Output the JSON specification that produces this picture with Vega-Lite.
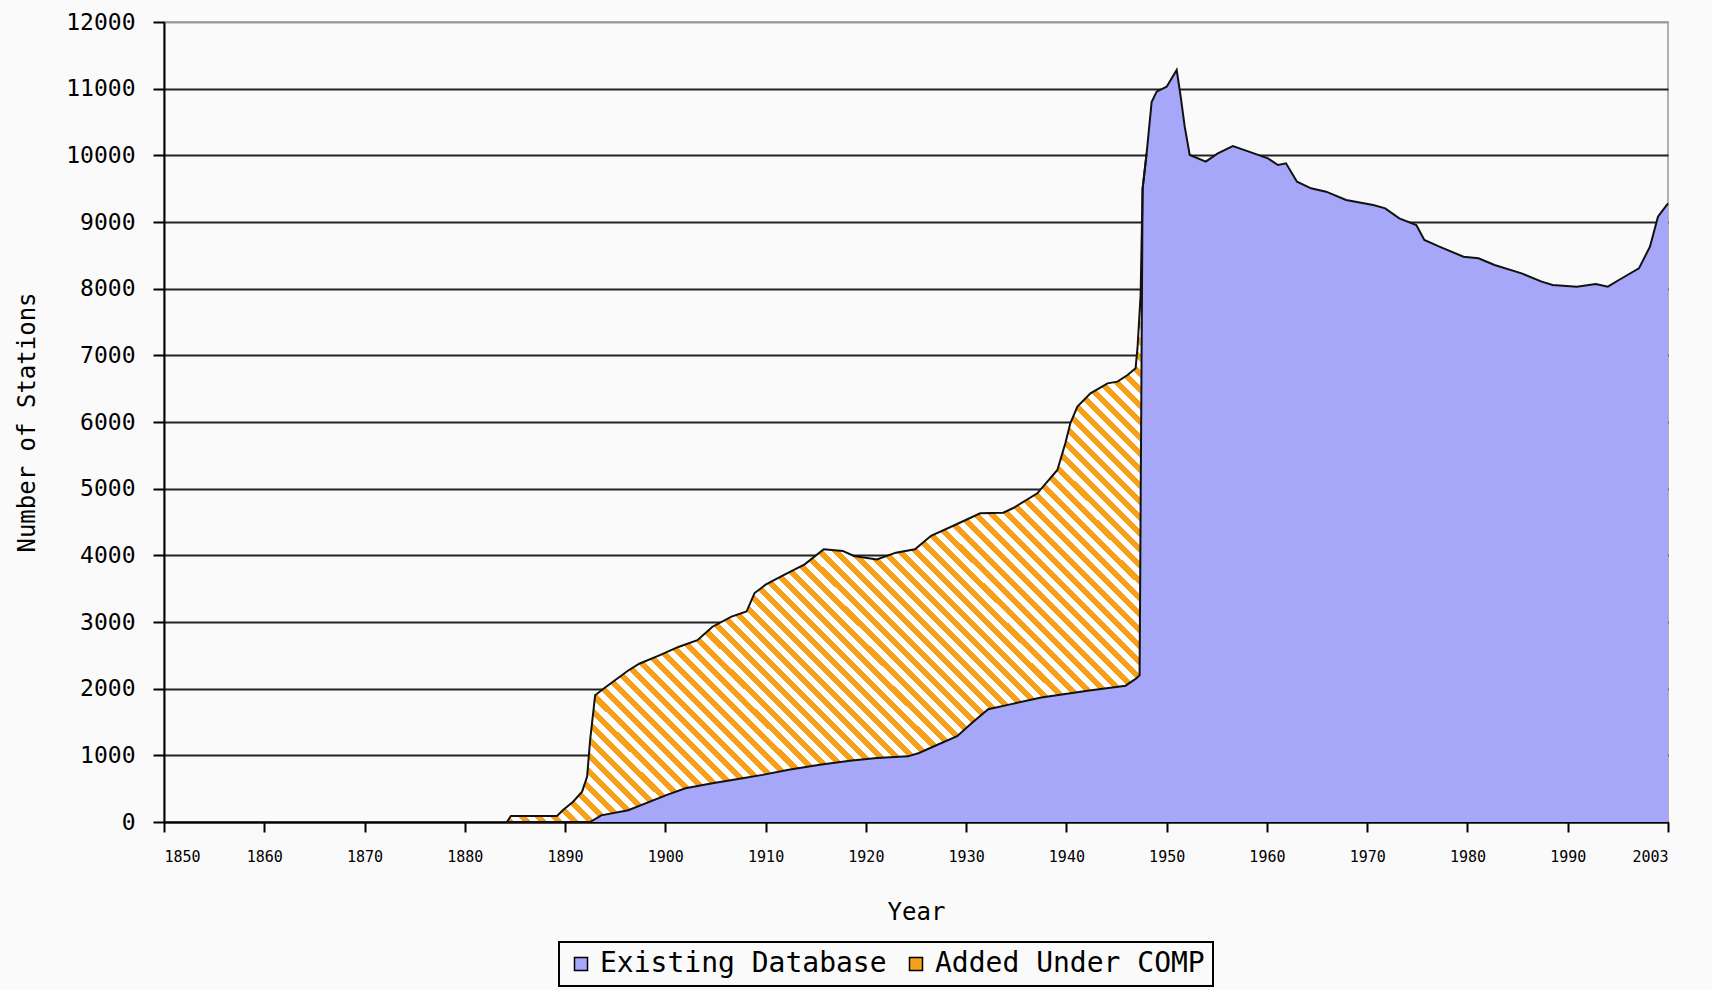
{
"$schema": "https://vega.github.io/schema/vega-lite/v6.json",
"width": 1504,
"height": 800,
"autosize": {"type": "none"},
"padding": {"left": 164, "top": 22, "right": 44, "bottom": 168},
"background": "#fafafa",
"config": {
  "font": "DejaVu Sans Mono",
  "view": {"stroke": "#9a9a9a", "strokeWidth": 1.5},
  "axis": {"labelColor": "#000", "titleColor": "#000", "titleFontWeight": "normal", "domainColor": "#000", "tickColor": "#000"},
  "legend": {"strokeWidth": 2}
},
"datasets": {
  "total": [
    {"year": 1884.2, "stations": 0}, {"year": 1884.6, "stations": 90}, {"year": 1889.2, "stations": 90}, {"year": 1889.8, "stations": 180},
    {"year": 1890.8, "stations": 305}, {"year": 1891.7, "stations": 455}, {"year": 1892.2, "stations": 680}, {"year": 1892.5, "stations": 1230},
    {"year": 1893.0, "stations": 1900}, {"year": 1893.8, "stations": 1995}, {"year": 1896.3, "stations": 2273}, {"year": 1897.4, "stations": 2374},
    {"year": 1899.4, "stations": 2500}, {"year": 1901.3, "stations": 2626}, {"year": 1903.2, "stations": 2727}, {"year": 1904.7, "stations": 2929},
    {"year": 1906.6, "stations": 3080}, {"year": 1908.1, "stations": 3157}, {"year": 1908.9, "stations": 3434}, {"year": 1910.0, "stations": 3560},
    {"year": 1911.6, "stations": 3687}, {"year": 1913.9, "stations": 3864}, {"year": 1915.8, "stations": 4091}, {"year": 1917.7, "stations": 4066},
    {"year": 1918.8, "stations": 3990}, {"year": 1921.1, "stations": 3939}, {"year": 1923.0, "stations": 4040}, {"year": 1924.9, "stations": 4091},
    {"year": 1926.5, "stations": 4293}, {"year": 1929.1, "stations": 4470}, {"year": 1931.4, "stations": 4630}, {"year": 1933.7, "stations": 4640},
    {"year": 1934.7, "stations": 4710}, {"year": 1937.1, "stations": 4930}, {"year": 1939.1, "stations": 5280}, {"year": 1939.9, "stations": 5685},
    {"year": 1940.4, "stations": 5985}, {"year": 1941.1, "stations": 6230}, {"year": 1942.4, "stations": 6430}, {"year": 1944.1, "stations": 6580},
    {"year": 1945.1, "stations": 6605}, {"year": 1946.1, "stations": 6705}, {"year": 1946.9, "stations": 6805}, {"year": 1947.1, "stations": 7130},
    {"year": 1947.4, "stations": 7900}, {"year": 1947.6, "stations": 9500}, {"year": 1948.0, "stations": 10030}, {"year": 1948.5, "stations": 10800},
    {"year": 1949.0, "stations": 10955}, {"year": 1950.0, "stations": 11030}, {"year": 1951.0, "stations": 11280}, {"year": 1951.4, "stations": 10880},
    {"year": 1951.8, "stations": 10430}, {"year": 1952.3, "stations": 10005}, {"year": 1953.9, "stations": 9905}, {"year": 1955.1, "stations": 10030},
    {"year": 1956.6, "stations": 10140}, {"year": 1958.2, "stations": 10055}, {"year": 1960.1, "stations": 9955}, {"year": 1961.1, "stations": 9855},
    {"year": 1961.9, "stations": 9880}, {"year": 1963.0, "stations": 9605}, {"year": 1964.4, "stations": 9505}, {"year": 1965.9, "stations": 9455},
    {"year": 1967.9, "stations": 9330}, {"year": 1970.6, "stations": 9255}, {"year": 1971.8, "stations": 9205}, {"year": 1973.2, "stations": 9055},
    {"year": 1974.9, "stations": 8955}, {"year": 1975.7, "stations": 8730}, {"year": 1977.2, "stations": 8630}, {"year": 1979.6, "stations": 8480},
    {"year": 1981.1, "stations": 8455}, {"year": 1982.7, "stations": 8355}, {"year": 1985.4, "stations": 8230}, {"year": 1987.4, "stations": 8105},
    {"year": 1988.5, "stations": 8055}, {"year": 1990.9, "stations": 8030}, {"year": 1992.8, "stations": 8070}, {"year": 1994.0, "stations": 8030},
    {"year": 1995.1, "stations": 8130}, {"year": 1997.1, "stations": 8305}, {"year": 1998.2, "stations": 8630}, {"year": 1999.0, "stations": 9080},
    {"year": 2000.0, "stations": 9280}
  ],
  "existing": [
    {"year": 1884.2, "stations": 0}, {"year": 1892.5, "stations": 0}, {"year": 1893.6, "stations": 100}, {"year": 1896.3, "stations": 177},
    {"year": 1900.1, "stations": 404}, {"year": 1902.0, "stations": 505}, {"year": 1904.7, "stations": 581}, {"year": 1907.7, "stations": 657},
    {"year": 1909.7, "stations": 707}, {"year": 1912.3, "stations": 783}, {"year": 1915.4, "stations": 859}, {"year": 1918.4, "stations": 919},
    {"year": 1921.1, "stations": 960}, {"year": 1924.2, "stations": 985}, {"year": 1925.3, "stations": 1035}, {"year": 1926.8, "stations": 1136},
    {"year": 1929.1, "stations": 1288}, {"year": 1930.6, "stations": 1490}, {"year": 1932.2, "stations": 1692}, {"year": 1934.5, "stations": 1768},
    {"year": 1937.5, "stations": 1869}, {"year": 1942.1, "stations": 1970}, {"year": 1945.9, "stations": 2045}, {"year": 1946.9, "stations": 2146},
    {"year": 1947.3, "stations": 2200}, {"year": 1947.6, "stations": 9500}, {"year": 1948.0, "stations": 10030}, {"year": 1948.5, "stations": 10800},
    {"year": 1949.0, "stations": 10955}, {"year": 1950.0, "stations": 11030}, {"year": 1951.0, "stations": 11280}, {"year": 1951.4, "stations": 10880},
    {"year": 1951.8, "stations": 10430}, {"year": 1952.3, "stations": 10005}, {"year": 1953.9, "stations": 9905}, {"year": 1955.1, "stations": 10030},
    {"year": 1956.6, "stations": 10140}, {"year": 1958.2, "stations": 10055}, {"year": 1960.1, "stations": 9955}, {"year": 1961.1, "stations": 9855},
    {"year": 1961.9, "stations": 9880}, {"year": 1963.0, "stations": 9605}, {"year": 1964.4, "stations": 9505}, {"year": 1965.9, "stations": 9455},
    {"year": 1967.9, "stations": 9330}, {"year": 1970.6, "stations": 9255}, {"year": 1971.8, "stations": 9205}, {"year": 1973.2, "stations": 9055},
    {"year": 1974.9, "stations": 8955}, {"year": 1975.7, "stations": 8730}, {"year": 1977.2, "stations": 8630}, {"year": 1979.6, "stations": 8480},
    {"year": 1981.1, "stations": 8455}, {"year": 1982.7, "stations": 8355}, {"year": 1985.4, "stations": 8230}, {"year": 1987.4, "stations": 8105},
    {"year": 1988.5, "stations": 8055}, {"year": 1990.9, "stations": 8030}, {"year": 1992.8, "stations": 8070}, {"year": 1994.0, "stations": 8030},
    {"year": 1995.1, "stations": 8130}, {"year": 1997.1, "stations": 8305}, {"year": 1998.2, "stations": 8630}, {"year": 1999.0, "stations": 9080},
    {"year": 2000.0, "stations": 9280}
  ]
},
"encoding": {
  "x": {
    "field": "year", "type": "quantitative",
    "scale": {"domain": [1850, 2000], "nice": false, "zero": false},
    "axis": {
      "title": "Year",
      "values": [1850, 1860, 1870, 1880, 1890, 1900, 1910, 1920, 1930, 1940, 1950, 1960, 1970, 1980, 1990, 2000],
      "format": "d",
      "labelExpr": "datum.value == 2000 ? '2003' : datum.label",
      "grid": false,
      "domainWidth": 2, "tickSize": 10, "tickWidth": 2,
      "labelFont": "DejaVu Sans Mono", "labelFontSize": 15, "labelPadding": 17,
      "titleFont": "DejaVu Sans Mono", "titleFontSize": 24, "titlePadding": 36
    }
  },
  "y": {
    "field": "stations", "type": "quantitative",
    "scale": {"domain": [0, 12000], "nice": false},
    "axis": {
      "title": "Number of Stations",
      "values": [0, 1000, 2000, 3000, 4000, 5000, 6000, 7000, 8000, 9000, 10000, 11000, 12000],
      "format": "d",
      "grid": true,
      "gridColor": {"condition": {"test": "datum.value == 12000", "value": "#9a9a9a"}, "value": "#222222"},
      "gridWidth": 2,
      "domainWidth": 2, "tickSize": 11, "tickWidth": 2,
      "labelFont": "DejaVu Sans Mono", "labelFontSize": 23, "labelPadding": 18,
      "titleFont": "DejaVu Sans Mono", "titleFontSize": 24, "titlePadding": 26
    }
  }
},
"layer": [
  {
    "data": {"name": "total"},
    "transform": [{"filter": "datum.year <= 1947.4"}],
    "mark": {"type": "area", "interpolate": "linear",
      "color": {"gradient": "linear", "x1": 0, "y1": 1, "x2": 1.2, "y2": 0, "stops": [
{"offset":0,"color":"#f7a11a"},{"offset":0.00625,"color":"#f7a11a"},{"offset":0.00625,"color":"#ffffff"},{"offset":0.0125,"color":"#ffffff"},
{"offset":0.0125,"color":"#f7a11a"},{"offset":0.01875,"color":"#f7a11a"},{"offset":0.01875,"color":"#ffffff"},{"offset":0.025,"color":"#ffffff"},
{"offset":0.025,"color":"#f7a11a"},{"offset":0.03125,"color":"#f7a11a"},{"offset":0.03125,"color":"#ffffff"},{"offset":0.0375,"color":"#ffffff"},
{"offset":0.0375,"color":"#f7a11a"},{"offset":0.04375,"color":"#f7a11a"},{"offset":0.04375,"color":"#ffffff"},{"offset":0.05,"color":"#ffffff"},
{"offset":0.05,"color":"#f7a11a"},{"offset":0.05625,"color":"#f7a11a"},{"offset":0.05625,"color":"#ffffff"},{"offset":0.0625,"color":"#ffffff"},
{"offset":0.0625,"color":"#f7a11a"},{"offset":0.06875,"color":"#f7a11a"},{"offset":0.06875,"color":"#ffffff"},{"offset":0.075,"color":"#ffffff"},
{"offset":0.075,"color":"#f7a11a"},{"offset":0.08125,"color":"#f7a11a"},{"offset":0.08125,"color":"#ffffff"},{"offset":0.0875,"color":"#ffffff"},
{"offset":0.0875,"color":"#f7a11a"},{"offset":0.09375,"color":"#f7a11a"},{"offset":0.09375,"color":"#ffffff"},{"offset":0.1,"color":"#ffffff"},
{"offset":0.1,"color":"#f7a11a"},{"offset":0.10625,"color":"#f7a11a"},{"offset":0.10625,"color":"#ffffff"},{"offset":0.1125,"color":"#ffffff"},
{"offset":0.1125,"color":"#f7a11a"},{"offset":0.11875,"color":"#f7a11a"},{"offset":0.11875,"color":"#ffffff"},{"offset":0.125,"color":"#ffffff"},
{"offset":0.125,"color":"#f7a11a"},{"offset":0.13125,"color":"#f7a11a"},{"offset":0.13125,"color":"#ffffff"},{"offset":0.1375,"color":"#ffffff"},
{"offset":0.1375,"color":"#f7a11a"},{"offset":0.14375,"color":"#f7a11a"},{"offset":0.14375,"color":"#ffffff"},{"offset":0.15,"color":"#ffffff"},
{"offset":0.15,"color":"#f7a11a"},{"offset":0.15625,"color":"#f7a11a"},{"offset":0.15625,"color":"#ffffff"},{"offset":0.1625,"color":"#ffffff"},
{"offset":0.1625,"color":"#f7a11a"},{"offset":0.16875,"color":"#f7a11a"},{"offset":0.16875,"color":"#ffffff"},{"offset":0.175,"color":"#ffffff"},
{"offset":0.175,"color":"#f7a11a"},{"offset":0.18125,"color":"#f7a11a"},{"offset":0.18125,"color":"#ffffff"},{"offset":0.1875,"color":"#ffffff"},
{"offset":0.1875,"color":"#f7a11a"},{"offset":0.19375,"color":"#f7a11a"},{"offset":0.19375,"color":"#ffffff"},{"offset":0.2,"color":"#ffffff"},
{"offset":0.2,"color":"#f7a11a"},{"offset":0.20625,"color":"#f7a11a"},{"offset":0.20625,"color":"#ffffff"},{"offset":0.2125,"color":"#ffffff"},
{"offset":0.2125,"color":"#f7a11a"},{"offset":0.21875,"color":"#f7a11a"},{"offset":0.21875,"color":"#ffffff"},{"offset":0.225,"color":"#ffffff"},
{"offset":0.225,"color":"#f7a11a"},{"offset":0.23125,"color":"#f7a11a"},{"offset":0.23125,"color":"#ffffff"},{"offset":0.2375,"color":"#ffffff"},
{"offset":0.2375,"color":"#f7a11a"},{"offset":0.24375,"color":"#f7a11a"},{"offset":0.24375,"color":"#ffffff"},{"offset":0.25,"color":"#ffffff"},
{"offset":0.25,"color":"#f7a11a"},{"offset":0.25625,"color":"#f7a11a"},{"offset":0.25625,"color":"#ffffff"},{"offset":0.2625,"color":"#ffffff"},
{"offset":0.2625,"color":"#f7a11a"},{"offset":0.26875,"color":"#f7a11a"},{"offset":0.26875,"color":"#ffffff"},{"offset":0.275,"color":"#ffffff"},
{"offset":0.275,"color":"#f7a11a"},{"offset":0.28125,"color":"#f7a11a"},{"offset":0.28125,"color":"#ffffff"},{"offset":0.2875,"color":"#ffffff"},
{"offset":0.2875,"color":"#f7a11a"},{"offset":0.29375,"color":"#f7a11a"},{"offset":0.29375,"color":"#ffffff"},{"offset":0.3,"color":"#ffffff"},
{"offset":0.3,"color":"#f7a11a"},{"offset":0.30625,"color":"#f7a11a"},{"offset":0.30625,"color":"#ffffff"},{"offset":0.3125,"color":"#ffffff"},
{"offset":0.3125,"color":"#f7a11a"},{"offset":0.31875,"color":"#f7a11a"},{"offset":0.31875,"color":"#ffffff"},{"offset":0.325,"color":"#ffffff"},
{"offset":0.325,"color":"#f7a11a"},{"offset":0.33125,"color":"#f7a11a"},{"offset":0.33125,"color":"#ffffff"},{"offset":0.3375,"color":"#ffffff"},
{"offset":0.3375,"color":"#f7a11a"},{"offset":0.34375,"color":"#f7a11a"},{"offset":0.34375,"color":"#ffffff"},{"offset":0.35,"color":"#ffffff"},
{"offset":0.35,"color":"#f7a11a"},{"offset":0.35625,"color":"#f7a11a"},{"offset":0.35625,"color":"#ffffff"},{"offset":0.3625,"color":"#ffffff"},
{"offset":0.3625,"color":"#f7a11a"},{"offset":0.36875,"color":"#f7a11a"},{"offset":0.36875,"color":"#ffffff"},{"offset":0.375,"color":"#ffffff"},
{"offset":0.375,"color":"#f7a11a"},{"offset":0.38125,"color":"#f7a11a"},{"offset":0.38125,"color":"#ffffff"},{"offset":0.3875,"color":"#ffffff"},
{"offset":0.3875,"color":"#f7a11a"},{"offset":0.39375,"color":"#f7a11a"},{"offset":0.39375,"color":"#ffffff"},{"offset":0.4,"color":"#ffffff"},
{"offset":0.4,"color":"#f7a11a"},{"offset":0.40625,"color":"#f7a11a"},{"offset":0.40625,"color":"#ffffff"},{"offset":0.4125,"color":"#ffffff"},
{"offset":0.4125,"color":"#f7a11a"},{"offset":0.41875,"color":"#f7a11a"},{"offset":0.41875,"color":"#ffffff"},{"offset":0.425,"color":"#ffffff"},
{"offset":0.425,"color":"#f7a11a"},{"offset":0.43125,"color":"#f7a11a"},{"offset":0.43125,"color":"#ffffff"},{"offset":0.4375,"color":"#ffffff"},
{"offset":0.4375,"color":"#f7a11a"},{"offset":0.44375,"color":"#f7a11a"},{"offset":0.44375,"color":"#ffffff"},{"offset":0.45,"color":"#ffffff"},
{"offset":0.45,"color":"#f7a11a"},{"offset":0.45625,"color":"#f7a11a"},{"offset":0.45625,"color":"#ffffff"},{"offset":0.4625,"color":"#ffffff"},
{"offset":0.4625,"color":"#f7a11a"},{"offset":0.46875,"color":"#f7a11a"},{"offset":0.46875,"color":"#ffffff"},{"offset":0.475,"color":"#ffffff"},
{"offset":0.475,"color":"#f7a11a"},{"offset":0.48125,"color":"#f7a11a"},{"offset":0.48125,"color":"#ffffff"},{"offset":0.4875,"color":"#ffffff"},
{"offset":0.4875,"color":"#f7a11a"},{"offset":0.49375,"color":"#f7a11a"},{"offset":0.49375,"color":"#ffffff"},{"offset":0.5,"color":"#ffffff"},
{"offset":0.5,"color":"#f7a11a"},{"offset":0.50625,"color":"#f7a11a"},{"offset":0.50625,"color":"#ffffff"},{"offset":0.5125,"color":"#ffffff"},
{"offset":0.5125,"color":"#f7a11a"},{"offset":0.51875,"color":"#f7a11a"},{"offset":0.51875,"color":"#ffffff"},{"offset":0.525,"color":"#ffffff"},
{"offset":0.525,"color":"#f7a11a"},{"offset":0.53125,"color":"#f7a11a"},{"offset":0.53125,"color":"#ffffff"},{"offset":0.5375,"color":"#ffffff"},
{"offset":0.5375,"color":"#f7a11a"},{"offset":0.54375,"color":"#f7a11a"},{"offset":0.54375,"color":"#ffffff"},{"offset":0.55,"color":"#ffffff"},
{"offset":0.55,"color":"#f7a11a"},{"offset":0.55625,"color":"#f7a11a"},{"offset":0.55625,"color":"#ffffff"},{"offset":0.5625,"color":"#ffffff"},
{"offset":0.5625,"color":"#f7a11a"},{"offset":0.56875,"color":"#f7a11a"},{"offset":0.56875,"color":"#ffffff"},{"offset":0.575,"color":"#ffffff"},
{"offset":0.575,"color":"#f7a11a"},{"offset":0.58125,"color":"#f7a11a"},{"offset":0.58125,"color":"#ffffff"},{"offset":0.5875,"color":"#ffffff"},
{"offset":0.5875,"color":"#f7a11a"},{"offset":0.59375,"color":"#f7a11a"},{"offset":0.59375,"color":"#ffffff"},{"offset":0.6,"color":"#ffffff"},
{"offset":0.6,"color":"#f7a11a"},{"offset":0.60625,"color":"#f7a11a"},{"offset":0.60625,"color":"#ffffff"},{"offset":0.6125,"color":"#ffffff"},
{"offset":0.6125,"color":"#f7a11a"},{"offset":0.61875,"color":"#f7a11a"},{"offset":0.61875,"color":"#ffffff"},{"offset":0.625,"color":"#ffffff"},
{"offset":0.625,"color":"#f7a11a"},{"offset":0.63125,"color":"#f7a11a"},{"offset":0.63125,"color":"#ffffff"},{"offset":0.6375,"color":"#ffffff"},
{"offset":0.6375,"color":"#f7a11a"},{"offset":0.64375,"color":"#f7a11a"},{"offset":0.64375,"color":"#ffffff"},{"offset":0.65,"color":"#ffffff"},
{"offset":0.65,"color":"#f7a11a"},{"offset":0.65625,"color":"#f7a11a"},{"offset":0.65625,"color":"#ffffff"},{"offset":0.6625,"color":"#ffffff"},
{"offset":0.6625,"color":"#f7a11a"},{"offset":0.66875,"color":"#f7a11a"},{"offset":0.66875,"color":"#ffffff"},{"offset":0.675,"color":"#ffffff"},
{"offset":0.675,"color":"#f7a11a"},{"offset":0.68125,"color":"#f7a11a"},{"offset":0.68125,"color":"#ffffff"},{"offset":0.6875,"color":"#ffffff"},
{"offset":0.6875,"color":"#f7a11a"},{"offset":0.69375,"color":"#f7a11a"},{"offset":0.69375,"color":"#ffffff"},{"offset":0.7,"color":"#ffffff"},
{"offset":0.7,"color":"#f7a11a"},{"offset":0.70625,"color":"#f7a11a"},{"offset":0.70625,"color":"#ffffff"},{"offset":0.7125,"color":"#ffffff"},
{"offset":0.7125,"color":"#f7a11a"},{"offset":0.71875,"color":"#f7a11a"},{"offset":0.71875,"color":"#ffffff"},{"offset":0.725,"color":"#ffffff"},
{"offset":0.725,"color":"#f7a11a"},{"offset":0.73125,"color":"#f7a11a"},{"offset":0.73125,"color":"#ffffff"},{"offset":0.7375,"color":"#ffffff"},
{"offset":0.7375,"color":"#f7a11a"},{"offset":0.74375,"color":"#f7a11a"},{"offset":0.74375,"color":"#ffffff"},{"offset":0.75,"color":"#ffffff"},
{"offset":0.75,"color":"#f7a11a"},{"offset":0.75625,"color":"#f7a11a"},{"offset":0.75625,"color":"#ffffff"},{"offset":0.7625,"color":"#ffffff"},
{"offset":0.7625,"color":"#f7a11a"},{"offset":0.76875,"color":"#f7a11a"},{"offset":0.76875,"color":"#ffffff"},{"offset":0.775,"color":"#ffffff"},
{"offset":0.775,"color":"#f7a11a"},{"offset":0.78125,"color":"#f7a11a"},{"offset":0.78125,"color":"#ffffff"},{"offset":0.7875,"color":"#ffffff"},
{"offset":0.7875,"color":"#f7a11a"},{"offset":0.79375,"color":"#f7a11a"},{"offset":0.79375,"color":"#ffffff"},{"offset":0.8,"color":"#ffffff"},
{"offset":0.8,"color":"#f7a11a"},{"offset":0.80625,"color":"#f7a11a"},{"offset":0.80625,"color":"#ffffff"},{"offset":0.8125,"color":"#ffffff"},
{"offset":0.8125,"color":"#f7a11a"},{"offset":0.81875,"color":"#f7a11a"},{"offset":0.81875,"color":"#ffffff"},{"offset":0.825,"color":"#ffffff"},
{"offset":0.825,"color":"#f7a11a"},{"offset":0.83125,"color":"#f7a11a"},{"offset":0.83125,"color":"#ffffff"},{"offset":0.8375,"color":"#ffffff"},
{"offset":0.8375,"color":"#f7a11a"},{"offset":0.84375,"color":"#f7a11a"},{"offset":0.84375,"color":"#ffffff"},{"offset":0.85,"color":"#ffffff"},
{"offset":0.85,"color":"#f7a11a"},{"offset":0.85625,"color":"#f7a11a"},{"offset":0.85625,"color":"#ffffff"},{"offset":0.8625,"color":"#ffffff"},
{"offset":0.8625,"color":"#f7a11a"},{"offset":0.86875,"color":"#f7a11a"},{"offset":0.86875,"color":"#ffffff"},{"offset":0.875,"color":"#ffffff"},
{"offset":0.875,"color":"#f7a11a"},{"offset":0.88125,"color":"#f7a11a"},{"offset":0.88125,"color":"#ffffff"},{"offset":0.8875,"color":"#ffffff"},
{"offset":0.8875,"color":"#f7a11a"},{"offset":0.89375,"color":"#f7a11a"},{"offset":0.89375,"color":"#ffffff"},{"offset":0.9,"color":"#ffffff"},
{"offset":0.9,"color":"#f7a11a"},{"offset":0.90625,"color":"#f7a11a"},{"offset":0.90625,"color":"#ffffff"},{"offset":0.9125,"color":"#ffffff"},
{"offset":0.9125,"color":"#f7a11a"},{"offset":0.91875,"color":"#f7a11a"},{"offset":0.91875,"color":"#ffffff"},{"offset":0.925,"color":"#ffffff"},
{"offset":0.925,"color":"#f7a11a"},{"offset":0.93125,"color":"#f7a11a"},{"offset":0.93125,"color":"#ffffff"},{"offset":0.9375,"color":"#ffffff"},
{"offset":0.9375,"color":"#f7a11a"},{"offset":0.94375,"color":"#f7a11a"},{"offset":0.94375,"color":"#ffffff"},{"offset":0.95,"color":"#ffffff"},
{"offset":0.95,"color":"#f7a11a"},{"offset":0.95625,"color":"#f7a11a"},{"offset":0.95625,"color":"#ffffff"},{"offset":0.9625,"color":"#ffffff"},
{"offset":0.9625,"color":"#f7a11a"},{"offset":0.96875,"color":"#f7a11a"},{"offset":0.96875,"color":"#ffffff"},{"offset":0.975,"color":"#ffffff"},
{"offset":0.975,"color":"#f7a11a"},{"offset":0.98125,"color":"#f7a11a"},{"offset":0.98125,"color":"#ffffff"},{"offset":0.9875,"color":"#ffffff"},
{"offset":0.9875,"color":"#f7a11a"},{"offset":0.99375,"color":"#f7a11a"},{"offset":0.99375,"color":"#ffffff"},{"offset":1,"color":"#ffffff"}
      ]}
    },
    "encoding": {}
  },
  {
    "data": {"name": "existing"},
    "mark": {"type": "area", "interpolate": "linear"},
    "encoding": {
      "color": {
        "datum": "Existing Database", "type": "nominal",
        "scale": {"domain": ["Existing Database", "Added Under COMP"], "range": ["#a7a7f9", "#f7a11a"]},
        "legend": {
          "title": null, "orient": "none", "legendX": 395, "legendY": 920, "direction": "horizontal",
          "strokeColor": "#000", "fillColor": "#fafafa", "padding": 8,
          "symbolType": "square", "symbolSize": 169, "symbolStrokeColor": "#000", "symbolStrokeWidth": 1.5,
          "labelFont": "DejaVu Sans Mono", "labelFontSize": 28, "labelColor": "#000", "labelOffset": 5,
          "columnPadding": 15, "labelLimit": 500
        }
      }
    }
  },
  {
    "data": {"name": "existing"},
    "transform": [{"filter": "datum.year <= 1948"}],
    "mark": {"type": "line", "color": "#111", "strokeWidth": 2},
    "encoding": {}
  },
  {
    "data": {"name": "total"},
    "mark": {"type": "line", "color": "#111", "strokeWidth": 2},
    "encoding": {}
  }
]
}
